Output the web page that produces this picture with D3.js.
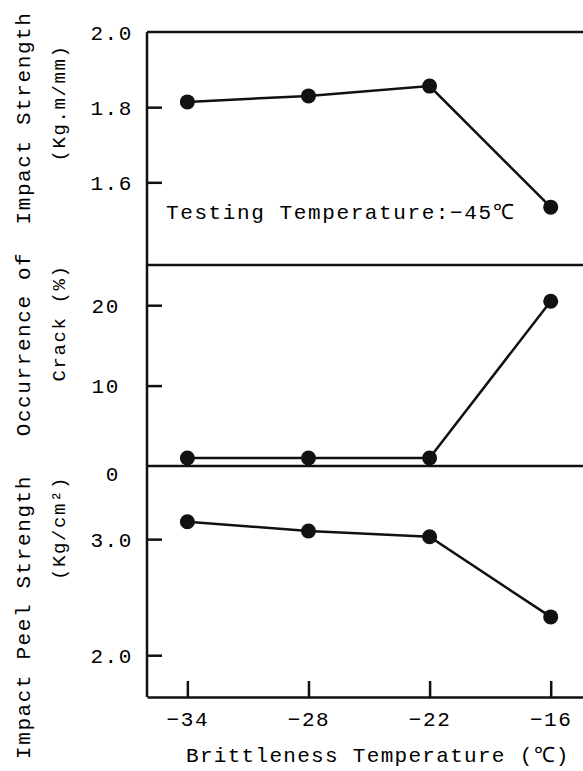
<!DOCTYPE html>
<html>
<head>
<meta charset="utf-8">
<script src="https://cdn.jsdelivr.net/npm/d3@7"></script>
<style>
  body { margin: 0; background: #fff; }
  svg text { font-family: "Liberation Mono", "DejaVu Sans Mono", monospace; fill: #000; letter-spacing: 1.6px; }
</style>
</head>
<body>
<div id="chart"></div>
<script>
// brittleness temperature (x) shared by all three panels
const temps = [-34, -28, -22, -16];
const xTicks = [-34, -28, -22, -16];

// panel 1: impact strength (Kg.m/mm)
const impactStrength = [1.814, 1.830, 1.856, 1.534];
const impactTicks = [2.0, 1.8, 1.6];

// panel 2: occurrence of crack (%)
const crackPct = [1.0, 1.0, 1.0, 20.5];
const crackTicks = [20, 10, 0];

// panel 3: impact peel strength (Kg/cm2)
const peelStrength = [3.15, 3.07, 3.02, 2.33];
const peelTicks = [3.0, 2.0];

const W = 583, H = 771;
const left = 147, right = 583;
const svg = d3.select('#chart').append('svg')
    .attr('width', W).attr('height', H);

const x = d3.scaleLinear().domain([-36, -14.4]).range([left, right]);

const panels = [
    {vals: impactStrength, ticks: impactTicks, dom: [1.38, 2.0], rng: [265, 32], fmt: d3.format('.1f'), pad: 14,
     title: ['Impact Strength', '(Kg.m/mm)'], tcy: [118, 103]},
    {vals: crackPct, ticks: crackTicks, dom: [0, 25], rng: [466, 265], fmt: d3.format('d'), pad: 27,
     title: ['Occurrence of', 'Crack (%)'], tcy: [344, 323]},
    {vals: peelStrength, ticks: peelTicks, dom: [1.64, 3.63], rng: [697, 466], fmt: d3.format('.1f'), pad: 14,
     title: ['Impact Peel Strength', '(Kg/cm\u00b2)'], tcy: [617, 528]}
];

const line = d3.line();

panels.forEach((p, i) => {
    const y = d3.scaleLinear().domain(p.dom).range(p.rng);

    // horizontal rule at the top of each panel
    svg.append('line')
        .attr('x1', left).attr('x2', right)
        .attr('y1', p.rng[1]).attr('y2', p.rng[1])
        .attr('stroke', '#111').attr('stroke-width', 2.5);

    const ax = svg.append('g')
        .attr('transform', `translate(${left},0)`)
        .call(d3.axisLeft(y).tickValues(p.ticks).tickFormat(p.fmt)
            .tickSizeInner(-15).tickSizeOuter(0).tickPadding(p.pad));
    ax.select('.domain').remove();
    ax.selectAll('.tick line').attr('stroke', '#111').attr('stroke-width', 2.5)
        .filter(d => d === p.dom[0] || d === p.dom[1] || (i === 1 && d === 0)).remove();
    ax.selectAll('.tick text').style('font-size', '21px').attr('fill', '#000')
        .attr('dy', d => (i === 1 && d === 0) ? '0.7em' : '0.35em');

    const pts = temps.map((t, k) => [x(t), y(p.vals[k])]);
    svg.append('path')
        .attr('d', line(pts))
        .attr('fill', 'none').attr('stroke', '#111').attr('stroke-width', 2.5);
    svg.selectAll(null).data(pts).enter().append('circle')
        .attr('cx', d => d[0]).attr('cy', d => d[1]).attr('r', 7.5)
        .attr('fill', '#111');

    // rotated two-line axis title
    [23, 58].forEach((cx, j) => {
        svg.append('text')
            .attr('transform', `translate(${cx + 7},${p.tcy[j]}) rotate(-90)`)
            .attr('text-anchor', 'middle')
            .style('font-size', j === 0 ? '21px' : '19px')
            .text(p.title[j]);
    });
});

// left frame line
svg.append('line')
    .attr('x1', left).attr('x2', left).attr('y1', 32).attr('y2', 697)
    .attr('stroke', '#111').attr('stroke-width', 2.5);

// x axis at the bottom
const xa = svg.append('g')
    .attr('transform', 'translate(0,697)')
    .call(d3.axisBottom(x).tickValues(xTicks).tickFormat(d => '\u2212' + Math.abs(d).toString())
        .tickSizeInner(-16).tickSizeOuter(0).tickPadding(14));
xa.select('.domain').attr('stroke', '#111').attr('stroke-width', 2.5);
xa.selectAll('.tick line').attr('stroke', '#111').attr('stroke-width', 2.5);
xa.selectAll('.tick text').style('font-size', '21px').attr('fill', '#000');

svg.append('text')
    .attr('x', 186).attr('y', 762)
    .style('font-size', '21px')
    .style('letter-spacing', '1.3px')
    .text('Brittleness Temperature (\u2103)');

svg.append('text')
    .attr('x', 166).attr('y', 219)
    .style('font-size', '21px')
    .text('Testing Temperature:\u221245\u2103');
</script>
</body>
</html>
